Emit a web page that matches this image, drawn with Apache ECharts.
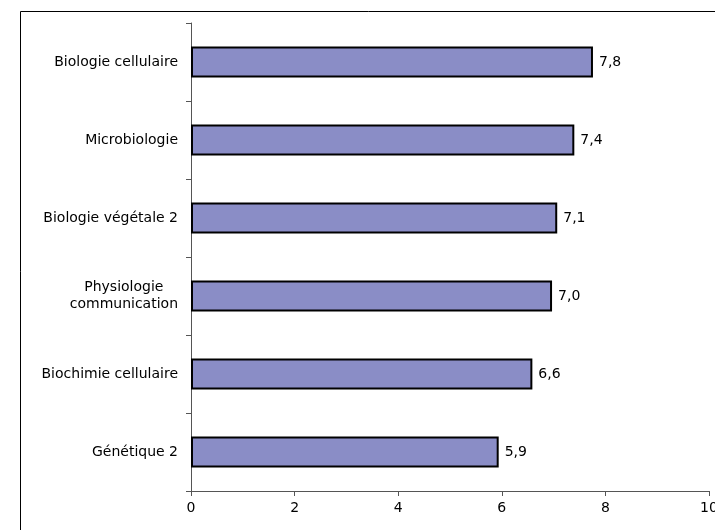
<!DOCTYPE html>
<html>
<head>
<meta charset="utf-8">
<script src="https://cdn.jsdelivr.net/npm/echarts@6/dist/echarts.min.js"></script>
<style>html,body{margin:0;padding:0;background:#fff;}#c{width:715px;height:530px;}</style>
</head>
<body>
<div id="c"></div>
<script>
var categories = ["Biologie cellulaire", "Microbiologie", "Biologie végétale 2", "Physiologie\ncommunication", "Biochimie cellulaire", "Génétique 2"];
var values = [7.76, 7.40, 7.07, 6.97, 6.59, 5.94];
var xTicks = [0, 2, 4, 6, 8, 10];

var chart = echarts.init(document.getElementById('c'), null, {renderer: 'canvas'});
var font = 'DejaVu Sans, Arial, sans-serif';
chart.setOption({
  animation: false,
  backgroundColor: '#fff',
  graphic: [{
    type: 'rect', shape: {x: 20.5, y: 11.5, width: 800, height: 600},
    style: {fill: 'none', stroke: '#000', lineWidth: 1}, z: -1, silent: true
  }],
  grid: {left: 191, right: 6, top: 23, bottom: 39, containLabel: false, outerBoundsMode: 'none'},
  xAxis: {
    type: 'value', min: xTicks[0], max: xTicks[xTicks.length - 1], interval: 2,
    axisLine: {show: true, lineStyle: {color: '#555', width: 1}},
    axisTick: {show: true, length: 5, lineStyle: {color: '#555'}},
    splitLine: {show: false},
    axisLabel: {color: '#000', fontSize: 14, fontFamily: font, margin: 10}
  },
  yAxis: {
    type: 'category', data: categories, inverse: true,
    axisLine: {show: true, lineStyle: {color: '#555', width: 1}},
    axisTick: {show: true, length: 5, alignWithLabel: false, lineStyle: {color: '#555'}},
    axisLabel: {
      color: '#000', fontSize: 14, fontFamily: font, margin: 13, align: 'right', lineHeight: 17,
      formatter: function (v) {
        return v.split('\n').map(function (s) { return '{c|' + s + '}'; }).join('\n');
      },
      rich: {c: {align: 'center', fontSize: 14, fontFamily: font, color: '#000', lineHeight: 17}}
    }
  },
  series: [{
    type: 'bar', data: values, barWidth: '40%',
    itemStyle: {color: '#8A8DC6', borderColor: '#000', borderWidth: 2},
    label: {show: true, position: 'right', distance: 6, color: '#000', fontSize: 14, fontFamily: font,
      formatter: function (p) { return p.value.toFixed(1).replace('.', ','); }}
  }]
});
</script>
</body>
</html>
